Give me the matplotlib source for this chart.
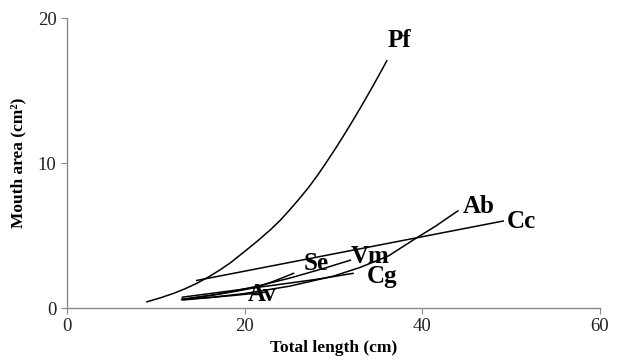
import matplotlib
matplotlib.use("Agg")
import matplotlib.pyplot as plt

plt.rcParams['font.family'] = ['Liberation Serif', 'DejaVu Serif']

# Data (total length cm, mouth area cm^2)
pf_x = [9.0, 10.5, 12.0, 13.3, 14.6, 15.9, 17.2, 18.4, 19.5, 20.4, 21.4, 22.9, 24.0,
        25.0, 26.1, 27.2, 28.2, 29.2, 30.2, 31.1, 32.0, 33.0, 33.7, 34.5, 35.2, 36.0]
pf_y = [0.43, 0.7, 1.01, 1.33, 1.7, 2.13, 2.62, 3.12, 3.66, 4.1, 4.6, 5.4, 6.05,
        6.72, 7.5, 8.32, 9.15, 10.05, 10.98, 11.85, 12.75, 13.78, 14.52, 15.38, 16.15, 17.05]

cc_x = [14.6, 49.1]
cc_y = [1.9, 6.0]

ab_x = [13.0, 16.0, 20.0, 25.0, 30.0, 33.0, 36.2, 39.0, 41.5, 44.0]
ab_y = [0.55, 0.72, 1.0, 1.5, 2.2, 2.8, 3.6, 4.7, 5.65, 6.7]

vm_x = [13.0, 17.0, 21.0, 25.0, 29.0, 31.9]
vm_y = [0.6, 0.95, 1.45, 2.05, 2.75, 3.3]

se_x = [13.0, 16.0, 19.0, 21.5, 23.5, 25.5]
se_y = [0.6, 0.85, 1.15, 1.45, 1.9, 2.39]

cg_x = [13.0, 18.0, 23.0, 28.0, 32.2]
cg_y = [0.75, 1.15, 1.55, 1.97, 2.39]

av_x = [12.9, 16.0, 19.0, 22.5]
av_y = [0.6, 0.72, 0.88, 1.1]

labels = ['Pf', 'Ab', 'Cc', 'Se', 'Vm', 'Cg', 'Av']
label_x = [37.4, 46.3, 51.2, 28.0, 34.1, 35.5, 22.0]
label_y = [18.48, 6.97, 6.0, 3.1, 3.52, 2.14, 0.9]

x_ticks = [0, 20, 40, 60]
y_ticks = [0, 10, 20]

fig = plt.figure(figsize=(6.18, 3.64), dpi=100)
ax = fig.add_axes([0.1084, 0.1538, 0.8625, 0.7967])

for xs, ys in [(pf_x, pf_y), (cc_x, cc_y), (ab_x, ab_y), (vm_x, vm_y),
               (se_x, se_y), (cg_x, cg_y), (av_x, av_y)]:
    ax.plot(xs, ys, color='black', lw=1.1, solid_joinstyle='round')

for t, lx, ly in zip(labels, label_x, label_y):
    ax.text(lx, ly, t, fontsize=18, fontweight='bold', ha='center', va='center')

ax.set_xlim(0, 60)
ax.set_ylim(0, 20)
ax.set_xticks(x_ticks)
ax.set_yticks(y_ticks)
for s in ['top', 'right']:
    ax.spines[s].set_visible(False)
for s in ['left', 'bottom']:
    ax.spines[s].set_color('#888888')
    ax.spines[s].set_linewidth(1.0)
ax.tick_params(axis='both', colors='#888888', labelcolor='#222222', labelsize=13.5, length=4)
ax.set_xlabel('Total length (cm)', fontsize=12.5, fontweight='bold', labelpad=3)
ax.set_ylabel('Mouth area (cm²)', fontsize=12.5, fontweight='bold', labelpad=8)

fig.savefig('out.png', dpi=100)
